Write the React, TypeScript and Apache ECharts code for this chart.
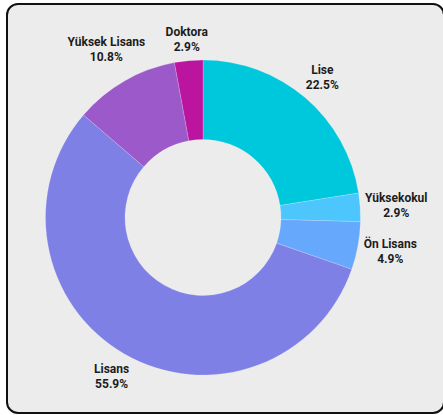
import React, { useEffect, useRef } from "react";
import * as echarts from "echarts";

const categories = ["Lise", "Yüksekokul", "Ön Lisans", "Lisans", "Yüksek Lisans", "Doktora"];
const values = [22.5, 2.9, 4.9, 55.9, 10.8, 2.9];
const colors = ["#00c8dc", "#4cc6fc", "#66a8fb", "#7f80e6", "#9b59c9", "#bb15a0"];

const CX = 203;
const CY = 217.5;
const R_OUT = 157.5;
const R_IN = 78;

export default function App() {
  const ref = useRef<HTMLDivElement>(null);

  useEffect(() => {
    if (!ref.current) return;
    const chart = echarts.init(ref.current, null, { renderer: "svg" });
    const data = categories.map((name, i) => ({
      name,
      value: values[i],
      itemStyle: { color: colors[i] },
    }));
    chart.setOption({
      animation: false,
      backgroundColor: "transparent",
      series: [
        {
          type: "pie",
          center: [CX, CY],
          radius: [R_IN, R_OUT],
          startAngle: 90,
          clockwise: true,
          avoidLabelOverlap: false,
          itemStyle: { borderColor: "rgba(255,255,255,0.3)", borderWidth: 0.6 },
          label: {
            show: true,
            position: "inside",
            formatter: "{b}\n{c}%",
            color: "#1c1c1c",
            fontFamily: "Roboto",
            fontWeight: "bold",
            fontSize: 12,
            lineHeight: 15,
            textBorderWidth: 0,
          },
          labelLine: { show: false },
          emphasis: { disabled: true },
          labelLayout: (params: any) => {
            const r = params.labelRect;
            const lx = r.x + r.width / 2;
            const ly = r.y + r.height / 2;
            const vx = lx - CX;
            const vy = ly - CY;
            const len = Math.sqrt(vx * vx + vy * vy) || 1;
            const dx = vx / len;
            const dy = vy / len;
            const dist = R_OUT + 4 + Math.abs(dx) * r.width / 2 + Math.abs(dy) * r.height / 2;
            return {
              x: CX + dx * dist,
              y: CY + dy * dist,
              align: "center",
              verticalAlign: "middle",
            };
          },
          data,
        },
      ],
    });
    return () => chart.dispose();
  }, []);

  return (
    <div style={{ position: "fixed", left: 0, top: 0, width: 443, height: 415, background: "#ffffff", overflow: "hidden" }}>
      <div
        style={{
          position: "absolute",
          left: 6,
          top: 3,
          width: 439,
          height: 411,
          boxSizing: "border-box",
          border: "2px solid #111",
          borderRadius: 12,
          background: "#ececec",
        }}
      />
      <div ref={ref} style={{ position: "absolute", left: 0, top: 0, width: 443, height: 415 }} />
    </div>
  );
}
